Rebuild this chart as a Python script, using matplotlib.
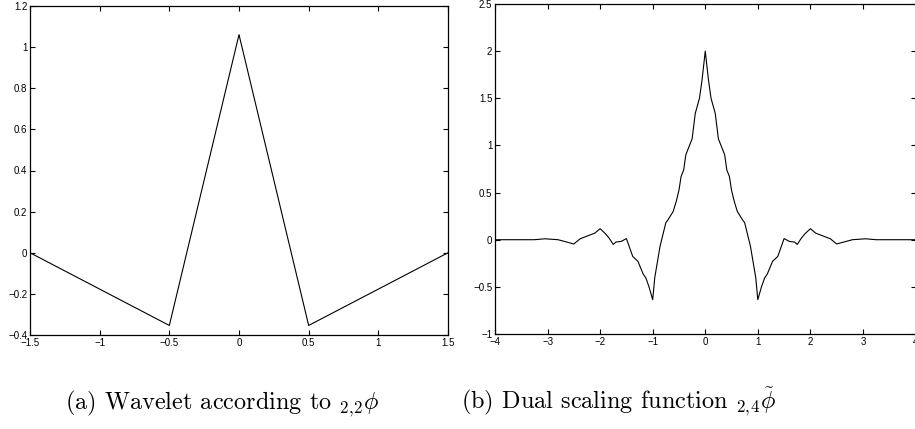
import matplotlib
matplotlib.use("Agg")
import matplotlib.pyplot as plt

# (a) wavelet according to 2,2 phi
wav_x = [-1.5, -0.5, 0.0, 0.5, 1.5]
wav_y = [0.0, -0.3536, 1.0607, -0.3536, 0.0]

# (b) dual scaling function 2,4 phi~
dual_x = [-4.0, -3.25, -3.05, -2.8, -2.5, -2.38, -2.1, -2.0, -1.9, -1.83, -1.75,
          -1.7, -1.6, -1.5, -1.38, -1.28, -1.18, -1.13, -1.07, -1.0, -0.96,
          -0.86, -0.75, -0.71, -0.61, -0.55, -0.5, -0.46, -0.41, -0.37, -0.25,
          -0.19, -0.11, -0.06, 0.0,
          0.06, 0.11, 0.19, 0.25, 0.37, 0.41, 0.46, 0.5, 0.55, 0.61, 0.71,
          0.75, 0.86, 0.96, 1.0, 1.07, 1.13, 1.18, 1.28, 1.38, 1.5, 1.6, 1.7,
          1.75, 1.83, 1.9, 2.0, 2.1, 2.38, 2.5, 2.8, 3.05, 3.25, 4.0]
dual_y = [0.0, 0.0, 0.01, 0.0, -0.045, 0.01, 0.07, 0.117, 0.064, 0.018, -0.05,
          -0.025, -0.018, 0.012, -0.177, -0.23, -0.365, -0.405, -0.50, -0.636, -0.40,
          -0.07, 0.18, 0.21, 0.30, 0.41, 0.525, 0.67, 0.74, 0.90, 1.07,
          1.34, 1.50, 1.70, 2.0,
          1.70, 1.50, 1.34, 1.07, 0.90, 0.74, 0.67, 0.525, 0.41, 0.30, 0.21,
          0.18, -0.07, -0.40, -0.636, -0.50, -0.405, -0.365, -0.23, -0.177, 0.012, -0.018, -0.025,
          -0.05, 0.018, 0.064, 0.117, 0.07, 0.01, -0.045, 0.0, 0.01, 0.0, 0.0]

xticks_a = [-1.5, -1, -0.5, 0, 0.5, 1, 1.5]
yticks_a = [-0.4, -0.2, 0, 0.2, 0.4, 0.6, 0.8, 1, 1.2]
xticks_b = [-4, -3, -2, -1, 0, 1, 2, 3, 4]
yticks_b = [-1, -0.5, 0, 0.5, 1, 1.5, 2, 2.5]

caption_a = r'(a) Wavelet according to ${}_{2,\!2}\phi$'
caption_b = r'(b) Dual scaling function ${}_{2,\!4}\tilde{\phi}$'

plt.rcParams['mathtext.fontset'] = 'cm'
plt.rcParams['font.family'] = ['Liberation Sans', 'DejaVu Sans']
plt.rcParams['axes.unicode_minus'] = True

W, H = 915, 429
fig = plt.figure(figsize=(W / 100, H / 100), dpi=100)

def fmt(v):
    s = ('%g' % v)
    return s.replace('-', '\u2212')

def style(ax, xt, yt, xlim, ylim):
    ax.set_xlim(*xlim)
    ax.set_ylim(*ylim)
    ax.set_xticks(xt)
    ax.set_yticks(yt)
    ax.set_xticklabels([fmt(v) for v in xt])
    ax.set_yticklabels([fmt(v) for v in yt])
    ax.tick_params(direction='in', length=3.5, width=0.8, top=True, right=True,
                   labelsize=7, pad=2, colors='black')
    for s in ax.spines.values():
        s.set_linewidth(0.9)

ax1 = fig.add_axes([30 / W, (H - 335) / H, 418 / W, 329 / H])
ax1.plot(wav_x, wav_y, color='black', linewidth=0.8)
style(ax1, xticks_a, yticks_a, (-1.5, 1.5), (-0.4, 1.2))

ax2 = fig.add_axes([495 / W, (H - 334) / H, 420.5 / W, 330 / H])
ax2.plot(dual_x, dual_y, color='black', linewidth=0.8)
style(ax2, xticks_b, yticks_b, (-4, 4), (-1, 2.5))

fig.text(222 / W, 1 - 409 / H, caption_a, family='cmr10', fontsize=17.5,
         ha='center', va='baseline')
fig.text(619 / W, 1 - 409 / H, caption_b, family='cmr10', fontsize=17.5,
         ha='center', va='baseline')

fig.savefig('out.png', dpi=100)
